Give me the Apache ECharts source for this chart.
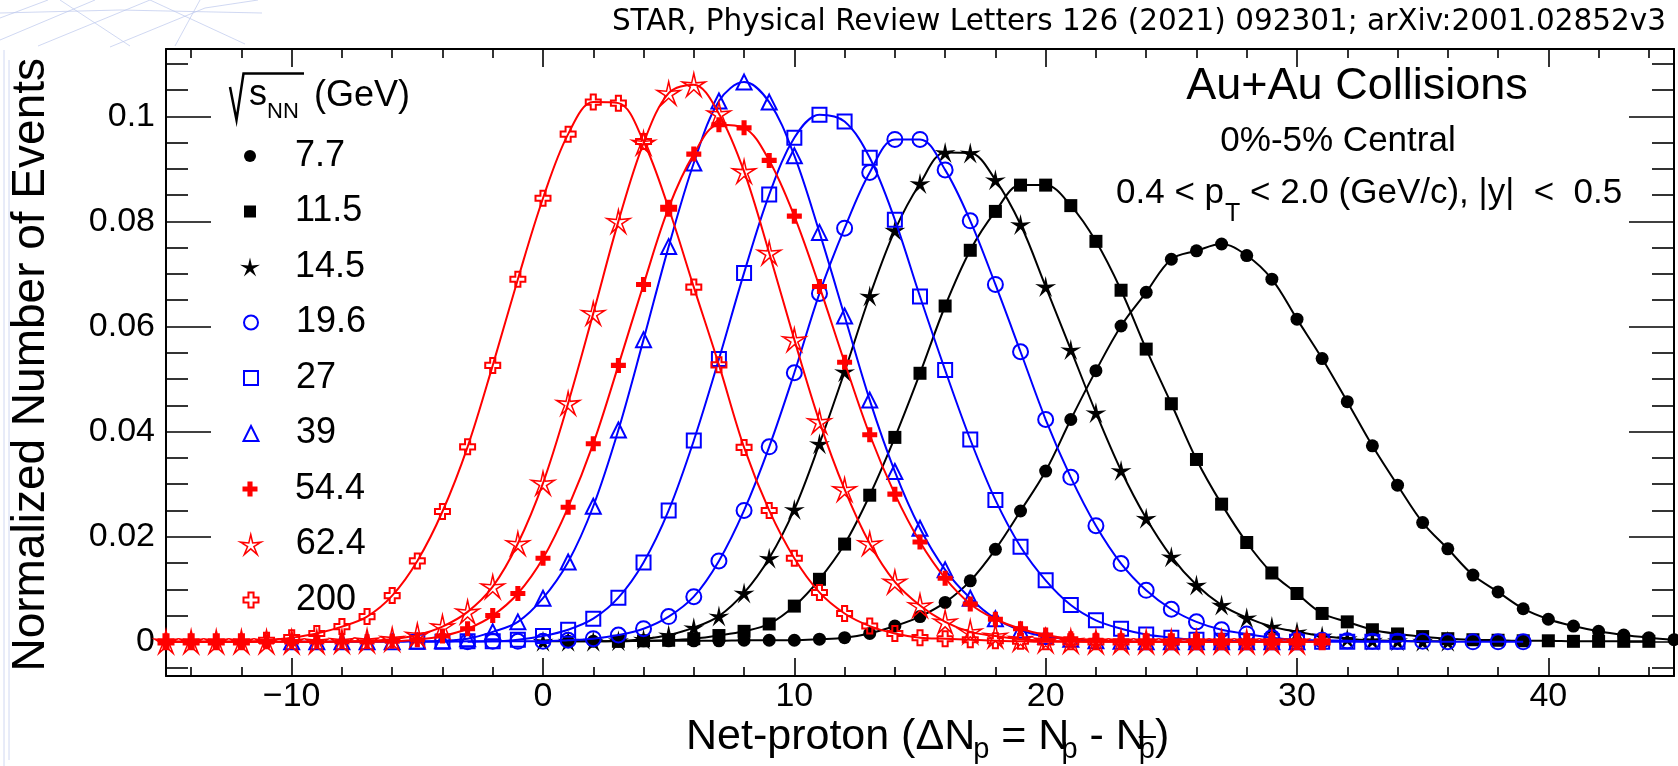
<!DOCTYPE html>
<html>
<head>
<meta charset="utf-8">
<script src="https://cdn.jsdelivr.net/npm/echarts@6/dist/echarts.min.js"></script>
<style>
  html, body { margin: 0; padding: 0; background: #fff; }
  #chart { width: 1678px; height: 766px; }
</style>
</head>
<body>
<div id="chart"></div>
<script>
// Net-proton multiplicity distributions, Au+Au 0%-5% central (STAR)
const energyLabels = ['7.7', '11.5', '14.5', '19.6', '27', '39', '54.4', '62.4', '200'];
// first net-proton bin of every distribution (bins step by 1)
const firstBin = [1, 3, 0, -3, -5, -10, -15, -15, -15];

const dist7p7 = [0.0001, 0.0001, 0.0001, 0.0002, 0.0002, 0.0002, 0.0002, 0.0003, 0.0003, 0.0003,
  0.0005, 0.0008, 0.0016, 0.0030, 0.0048, 0.0075, 0.0116, 0.0176, 0.0249, 0.0325,
  0.0423, 0.0516, 0.0601, 0.0665, 0.0728, 0.0744, 0.0757, 0.0735, 0.0690, 0.0614,
  0.0539, 0.0457, 0.0373, 0.0298, 0.0227, 0.0177, 0.0127, 0.0095, 0.0063, 0.0043,
  0.0030, 0.0020, 0.0013, 0.0008, 0.0004];
const dist11p5 = [0.0001, 0.0002, 0.0003, 0.0006, 0.0012, 0.0020, 0.0034, 0.0068, 0.0119, 0.0186,
  0.0279, 0.0389, 0.0511, 0.0639, 0.0745, 0.0819, 0.0869, 0.0869, 0.0830, 0.0762,
  0.0669, 0.0557, 0.0453, 0.0347, 0.0262, 0.0189, 0.0131, 0.0092, 0.0054, 0.0038,
  0.0023, 0.0015, 0.0010, 0.0006, 0.0004, 0.0003, 0.0002, 0.0002, 0.0001, 0.0001,
  0.0001, 0.0001];
const dist14p5 = [0.0001, 0.0001, 0.0001, 0.0002, 0.0005, 0.0013, 0.0027, 0.0049, 0.0093, 0.0159,
  0.0252, 0.0377, 0.0514, 0.0658, 0.0783, 0.0872, 0.0931, 0.0930, 0.0879, 0.0794,
  0.0676, 0.0556, 0.0436, 0.0326, 0.0235, 0.0162, 0.0108, 0.0070, 0.0046, 0.0029,
  0.0019, 0.0011, 0.0006, 0.0003, 0.0002, 0.0001, 0.0001];
const dist19p6 = [0.0000, 0.0001, 0.0001, 0.0001, 0.0003, 0.0006, 0.0013, 0.0025, 0.0048, 0.0086,
  0.0154, 0.0250, 0.0371, 0.0512, 0.0663, 0.0787, 0.0893, 0.0956, 0.0956, 0.0898,
  0.0801, 0.0680, 0.0552, 0.0423, 0.0313, 0.0221, 0.0149, 0.0098, 0.0062, 0.0038,
  0.0023, 0.0015, 0.0008, 0.0004, 0.0003, 0.0002, 0.0001, 0.0001, 0.0001, 0.0000,
  0.0000, 0.0000, 0.0000];
const dist27 = [0.0000, 0.0000, 0.0001, 0.0001, 0.0004, 0.0011, 0.0023, 0.0044, 0.0084, 0.0151,
  0.0250, 0.0383, 0.0538, 0.0702, 0.0851, 0.0959, 0.1003, 0.0990, 0.0921, 0.0803,
  0.0657, 0.0517, 0.0385, 0.0270, 0.0181, 0.0117, 0.0070, 0.0041, 0.0025, 0.0014,
  0.0008, 0.0004, 0.0002, 0.0001, 0.0001, 0.0000, 0.0000, 0.0000, 0.0000, 0.0000];
const dist39 = [0.0000, 0.0000, 0.0000, 0.0000, 0.0000, 0.0001, 0.0002, 0.0006, 0.0019, 0.0038,
  0.0083, 0.0152, 0.0258, 0.0403, 0.0575, 0.0752, 0.0911, 0.1029, 0.1065, 0.1027,
  0.0925, 0.0779, 0.0620, 0.0460, 0.0324, 0.0216, 0.0137, 0.0083, 0.0044, 0.0022,
  0.0010, 0.0005, 0.0002, 0.0001, 0.0000, 0.0000, 0.0000, 0.0000, 0.0000, 0.0000,
  0.0000];
const dist54p4 = [0.0000, 0.0000, 0.0000, 0.0000, 0.0000, 0.0000, 0.0000, 0.0000, 0.0000, 0.0001,
  0.0004, 0.0011, 0.0025, 0.0050, 0.0092, 0.0159, 0.0256, 0.0377, 0.0526, 0.0680,
  0.0826, 0.0928, 0.0984, 0.0978, 0.0916, 0.0810, 0.0676, 0.0532, 0.0394, 0.0281,
  0.0190, 0.0121, 0.0072, 0.0043, 0.0025, 0.0013, 0.0006, 0.0003, 0.0001, 0.0000,
  0.0000, 0.0000, 0.0000, 0.0000, 0.0000, 0.0000, 0.0000];
const dist62p4 = [0.0000, 0.0000, 0.0000, 0.0000, 0.0000, 0.0000, 0.0000, 0.0001, 0.0002, 0.0005,
  0.0013, 0.0029, 0.0057, 0.0105, 0.0187, 0.0302, 0.0454, 0.0625, 0.0800, 0.0949,
  0.1044, 0.1060, 0.1005, 0.0895, 0.0740, 0.0575, 0.0419, 0.0290, 0.0187, 0.0114,
  0.0069, 0.0038, 0.0019, 0.0011, 0.0005, 0.0002, 0.0001, 0.0000, 0.0000, 0.0000,
  0.0000, 0.0000, 0.0000, 0.0000, 0.0000, 0.0000];
const dist200 = [0.0000, 0.0000, 0.0000, 0.0000, 0.0003, 0.0008, 0.0016, 0.0029, 0.0048, 0.0088,
  0.0154, 0.0248, 0.0371, 0.0526, 0.0690, 0.0844, 0.0966, 0.1027, 0.1025, 0.0952,
  0.0825, 0.0675, 0.0527, 0.0370, 0.0250, 0.0159, 0.0094, 0.0054, 0.0030, 0.0016,
  0.0008, 0.0006, 0.0004, 0.0002, 0.0001, 0.0000, 0.0000, 0.0000, 0.0000, 0.0000,
  0.0000, 0.0000, 0.0000, 0.0000, 0.0000, 0.0000, 0.0000];
const distributions = [dist7p7, dist11p5, dist14p5, dist19p6, dist27, dist39, dist54p4, dist62p4, dist200];

// axis ticks
const xMajorTicks = [-10, 0, 10, 20, 30, 40];
const xMinorTicks = [-14, -12, -8, -6, -4, -2, 2, 4, 6, 8, 12, 14, 16, 18, 22, 24, 26, 28, 32, 34, 36, 38, 42, 44];
const yMajorTicks = [0, 0.02, 0.04, 0.06, 0.08, 0.1];
const yMinorTicks = [-0.005, 0.005, 0.01, 0.015, 0.025, 0.03, 0.035, 0.045, 0.05, 0.055,
  0.065, 0.07, 0.075, 0.085, 0.09, 0.095, 0.105, 0.11];

// ---- marker shapes ----
const STAR = 'path://M50 0 L58.8 37.9 L97.6 34.5 L64.3 54.6 L79.4 90.5 L50 65 L20.6 90.5 L35.7 54.6 L2.4 34.5 L41.2 37.9 Z';
const CROSS = 'path://M33 0 H67 V33 H100 V67 H67 V100 H33 V67 H0 V33 H33 Z';
const BLACK = '#000000', BLUE = '#0000ff', RED = '#ff0000';
const markerStyles = [
  { symbol: 'circle',   size: 13, legendSize: 12, color: BLACK, open: false },
  { symbol: 'rect',     size: 13, legendSize: 12, color: BLACK, open: false },
  { symbol: STAR,       size: 21, legendSize: 20, color: BLACK, open: false },
  { symbol: 'circle',   size: 15, legendSize: 14, color: BLUE,  open: true, border: 2 },
  { symbol: 'rect',     size: 14, legendSize: 14, color: BLUE,  open: true, border: 2 },
  { symbol: 'triangle', size: 15, legendSize: 15, color: BLUE,  open: true, border: 2 },
  { symbol: CROSS,      size: 15, legendSize: 15, color: RED,   open: false },
  { symbol: STAR,       size: 23, legendSize: 21, color: RED,   open: true, border: 1.5 },
  { symbol: CROSS,      size: 15, legendSize: 15, color: RED,   open: true, border: 2 }
];

function markerItemStyle(m, legend) {
  return m.open
    ? { color: legend ? '#ffffff' : 'rgba(255,255,255,0)', borderColor: m.color, borderWidth: m.border }
    : { color: m.color, borderColor: m.color, borderWidth: 0 };
}

const series = energyLabels.map((name, k) => {
  const m = markerStyles[k];
  return {
    name: name,
    type: 'line',
    xAxisIndex: 0,
    yAxisIndex: 0,
    data: distributions[k].map((v, i) => [firstBin[k] + i, v]),
    smooth: 0.35,
    symbol: m.symbol,
    symbolSize: m.size,
    showAllSymbol: true,
    lineStyle: { color: m.color, width: 2 },
    itemStyle: markerItemStyle(m, false),
    emphasis: { disabled: true },
    z: 3 + k,
    animation: false
  };
});

// ---- text helpers ----
const LAB = '"Liberation Sans", Arial, Helvetica, sans-serif';
const mctx = document.createElement('canvas').getContext('2d');
function textWidth(str, size, family) {
  mctx.font = size + 'px ' + family;
  return mctx.measureText(str).width;
}
// place text by its alphabetic baseline
function baseText(str, x, baseline, size, opts) {
  opts = opts || {};
  const family = opts.family || LAB;
  return {
    type: 'text',
    x: x,
    y: baseline - 0.35 * size,
    silent: true,
    style: {
      text: str,
      font: size + 'px ' + family,
      fill: '#000',
      align: opts.align || 'left',
      verticalAlign: 'middle'
    }
  };
}
// a run of text pieces laid out left to right (for sub-/superscripts)
function textRun(x0, baseline, pieces, family) {
  family = family || LAB;
  const out = [];
  let x = x0;
  pieces.forEach(p => {
    const el = baseText(p.t, x + (p.dx || 0), baseline + (p.dy || 0), p.s, { family: family });
    out.push(el);
    p.x = x + (p.dx || 0);
    p.w = textWidth(p.t, p.s, family);
    x += (p.dx || 0) + p.w;
  });
  return { elements: out, pieces: pieces, end: x };
}

const graphics = [];

// faint page-background strokes in the upper-left corner and along the left edge
const bgStrokes = [
  [[0, 40], [95, 0]], [[0, 18], [48, 0]], [[38, 46], [150, 0]], [[110, 47], [205, 8], [258, 0]],
  [[0, 13], [120, 10], [262, 13]], [[150, 0], [245, 44]], [[60, 0], [130, 46]], [[200, 0], [175, 46]],
  [[4, 50], [4, 766]], [[9, 60], [9, 760]]
];
bgStrokes.forEach(pts => graphics.push({
  type: 'polyline', silent: true, z: -10,
  shape: { points: pts },
  style: { stroke: '#bcc8ec', lineWidth: 1, opacity: 0.7, fill: null }
}));

// citation line
graphics.push(baseText('STAR, Physical Review Letters 126 (2021) 092301; arXiv:2001.02852v3',
  1666, 33, 29.5, { family: '"DejaVu Sans", sans-serif', align: 'right' }));

// collision system annotations
graphics.push(baseText('Au+Au Collisions', 1357, 102, 45, { align: 'center' }));
graphics.push(baseText('0%-5% Central', 1338, 154, 35, { align: 'center' }));
graphics.push(...textRun(1116, 206, [
  { t: '0.4 < p', s: 35 },
  { t: 'T', s: 25, dy: 17, dx: 1 },
  { t: ' < 2.0 (GeV/c), |y|  <  0.5', s: 35 }
]).elements);

// legend header: sqrt(s_NN) (GeV)
graphics.push({
  type: 'polyline', silent: true,
  shape: { points: [[230, 87], [236.5, 120], [243.5, 73.5], [304, 73.5]] },
  style: { stroke: '#000', lineWidth: 2.5, fill: null }
});
graphics.push(baseText('s', 249, 108, 36));
graphics.push(baseText('NN', 267, 120, 22));
graphics.push(baseText('(GeV)', 314, 109, 36));

// y-axis title
graphics.push({
  type: 'text', silent: true,
  x: 31, y: 58, rotation: Math.PI / 2,
  style: { text: 'Normalized Number of Events', font: '46px ' + LAB, fill: '#000', align: 'right', verticalAlign: 'middle' }
});

// x-axis title: Net-proton (ΔN_p = N_p - N_pbar)
const xt = textRun(686, 752, [
  { t: 'Net-proton (\u0394N', s: 43 },
  { t: 'p', s: 29, dy: 8, dx: -2 },
  { t: ' = N', s: 43 },
  { t: 'p', s: 29, dy: 8, dx: -8 },
  { t: ' - N', s: 43 },
  { t: 'p', s: 29, dy: 8, dx: -8 },
  { t: ')', s: 43 }
]);
graphics.push(...xt.elements);
{
  const pb = xt.pieces[5];
  graphics.push({
    type: 'line', silent: true,
    shape: { x1: pb.x, y1: 737, x2: pb.x + pb.w + 1, y2: 737 },
    style: { stroke: '#000', lineWidth: 2 }
  });
}

// ---- axes: frame with inward major and minor ticks on all four sides ----
const AXIS_FONT = 34;
function xAxisDef(position, ticks, len, showLine, showLabels) {
  return {
    type: 'value', gridIndex: 0, position: position, min: -15, max: 45,
    axisLine: { show: showLine, onZero: false, lineStyle: { color: '#000', width: 2 } },
    axisTick: { show: true, inside: true, length: len, customValues: ticks, lineStyle: { color: '#000', width: 1.6 } },
    axisLabel: showLabels ? {
      show: true, customValues: ticks, margin: 4,
      fontFamily: LAB, fontSize: AXIS_FONT, lineHeight: AXIS_FONT, color: '#000',
      formatter: v => String(v).replace('-', '\u2212')
    } : { show: false },
    splitLine: { show: false }
  };
}
function yAxisDef(position, ticks, len, showLine, showLabels) {
  return {
    type: 'value', gridIndex: 0, position: position, min: -0.0065, max: 0.1128,
    axisLine: { show: showLine, onZero: false, lineStyle: { color: '#000', width: 2 } },
    axisTick: { show: true, inside: true, length: len, customValues: ticks, lineStyle: { color: '#000', width: 1.6 } },
    axisLabel: showLabels ? {
      show: true, customValues: ticks, margin: 11,
      fontFamily: LAB, fontSize: AXIS_FONT, color: '#000',
      formatter: v => (Math.abs(v) < 1e-9 ? '0' : String(+v.toFixed(3)))
    } : { show: false },
    splitLine: { show: false }
  };
}

// one legend block per entry so each marker keeps its own size
const LEGEND_ICON_X = 245, LEGEND_TEXT_X = 290, LEGEND_FIRST_Y = 151, LEGEND_STEP = 55.5, LEGEND_LH = 40;
const legends = energyLabels.map((name, k) => {
  const m = markerStyles[k];
  const s = m.legendSize;
  return {
    orient: 'vertical',
    left: LEGEND_ICON_X - s / 2,
    top: LEGEND_FIRST_Y + k * LEGEND_STEP - LEGEND_LH / 2,
    itemWidth: s, itemHeight: s,
    selectedMode: false,
    textStyle: {
      fontFamily: LAB, fontSize: 36, color: '#000', lineHeight: LEGEND_LH,
      padding: [0, 0, 0, LEGEND_TEXT_X - (LEGEND_ICON_X + s / 2) - 5]
    },
    data: [{ name: name, icon: m.symbol, itemStyle: markerItemStyle(m, true) }]
  };
});

const option = {
  backgroundColor: '#ffffff',
  animation: false,
  grid: { left: 166, top: 49, width: 1508, height: 627, containLabel: false },
  xAxis: [
    xAxisDef('bottom', xMajorTicks, 18, true, true),
    xAxisDef('bottom', xMinorTicks, 9, false, false),
    xAxisDef('top', xMajorTicks, 18, true, false),
    xAxisDef('top', xMinorTicks, 9, false, false)
  ],
  yAxis: [
    yAxisDef('left', yMajorTicks, 45, true, true),
    yAxisDef('left', yMinorTicks, 22, false, false),
    yAxisDef('right', yMajorTicks, 45, true, false),
    yAxisDef('right', yMinorTicks, 22, false, false)
  ],
  legend: legends,
  series: series,
  graphic: graphics
};

const chart = echarts.init(document.getElementById('chart'), null, { renderer: 'canvas' });
chart.setOption(option);
</script>
</body>
</html>
